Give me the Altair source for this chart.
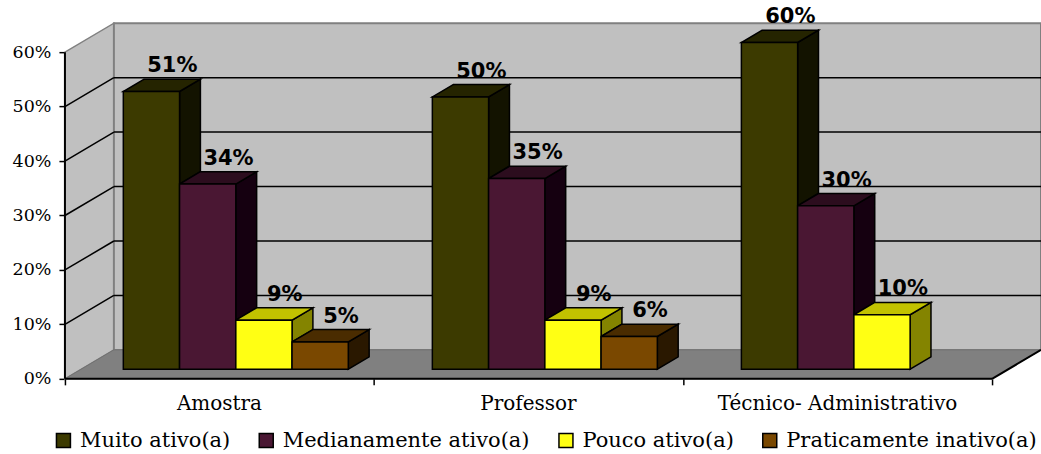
import altair as alt
import pandas as pd

# ---- data -----------------------------------------------------------------
categories = ["Amostra", "Professor", "Técnico- Administrativo"]
series = ["Muito ativo(a)", "Medianamente ativo(a)", "Pouco ativo(a)", "Praticamente inativo(a)"]
muito_ativo = [51, 50, 60]
medianamente_ativo = [34, 35, 30]
pouco_ativo = [9, 9, 10]
praticamente_inativo = [5, 6, None]
y_ticks = [0, 10, 20, 30, 40, 50, 60]

# face colours per series: front, top (lit) and right side (shaded)
front_colors = ["#3c3a00", "#4a1733", "#ffff14", "#7a4800"]
top_colors = ["#252400", "#2c0d1e", "#c2c200", "#4a2c00"]
side_colors = ["#131300", "#150010", "#848400", "#2a1800"]

# ---- oblique 3-D projection (in data units) --------------------------------
DX = 0.1584        # shift of the back plane along x (category units)
DY = 5.32          # shift of the back plane along y (percentage points)
Z_FRONT, Z_BACK = 0.334, 0.76   # depth of the bars' front and back faces
BAR_W = 0.182      # bar width (category units)
Y_MAX = 60
N = len(categories)

values_by_series = [muito_ativo, medianamente_ativo, pouco_ativo, praticamente_inativo]

front_rows, top_rows, side_rows, label_rows = [], [], [], []
for g in range(N):
    for i, s in enumerate(series):
        v = values_by_series[i][g]
        if v is None:
            continue
        xl = g + 0.5 + (i - len(series) / 2) * BAR_W
        xr = xl + BAR_W
        fid = f"{g}-{i}"
        front_rows.append(dict(series=s, x=xl + Z_FRONT * DX, x2=xr + Z_FRONT * DX,
                               y=Z_FRONT * DY, y2=v + Z_FRONT * DY))
        for z in (Z_FRONT, Z_BACK):
            top_rows.append(dict(id=fid, fill=top_colors[i], y=v + z * DY,
                                 x=xl + z * DX, x2=xr + z * DX))
        # the right face is hidden wherever the neighbouring bar stands
        nxt = values_by_series[i + 1][g] if i + 1 < len(series) else None
        lo = nxt if nxt is not None else 0
        if lo < v:
            for z in (Z_FRONT, Z_BACK):
                side_rows.append(dict(id=fid, fill=side_colors[i], x=xr + z * DX,
                                      y=v + z * DY, y2=lo + z * DY))
        label_rows.append(dict(x=(xl + xr) / 2 + Z_BACK * DX, y=v + Z_BACK * DY,
                               text=f"{v}%"))

front_df = pd.DataFrame(front_rows)
top_df = pd.DataFrame(top_rows)
side_df = pd.DataFrame(side_rows)
label_df = pd.DataFrame(label_rows)
cat_df = pd.DataFrame(dict(x=[g + 0.5 for g in range(N)], y=[0] * N, text=categories))

# walls and floor of the 3-D box
side_wall_df = pd.DataFrame(dict(x=[0, DX], y=[0, DY], y2=[Y_MAX, Y_MAX + DY]))
floor_df = pd.DataFrame(dict(y=[0, DY], x=[0, DX], x2=[N, N + DX]))
back_wall_df = pd.DataFrame(dict(x=[DX], x2=[N + DX], y=[DY], y2=[Y_MAX + DY]))
grid_vals = [t for t in y_ticks if 0 < t < Y_MAX]
back_grid_df = pd.DataFrame(dict(x=[DX] * len(grid_vals), x2=[N + DX] * len(grid_vals),
                                 y=[t + DY for t in grid_vals]))
side_grid_df = pd.DataFrame(dict(x=[0] * len(grid_vals), x2=[DX] * len(grid_vals),
                                 y=grid_vals, y2=[t + DY for t in grid_vals]))
axis_lines_df = pd.DataFrame(dict(x=[0, 0, N], x2=[0, N, N + DX],
                                  y=[0, 0, 0], y2=[Y_MAX, 0, DY]))

xs = alt.Scale(domain=[0, N + DX], nice=False, zero=False)
ys = alt.Scale(domain=[0, Y_MAX + DY], nice=False, zero=False)

SERIF = "DejaVu Serif"

# shared axes: ticks only on x (category boundaries), ticks + labels on y
x_axis = alt.Axis(values=list(range(N + 1)), labels=False, domain=False, grid=False,
                  ticks=True, tickColor="black", tickSize=6, tickWidth=1.5, title=None)
y_axis = alt.Axis(values=y_ticks, domain=False, grid=False, ticks=True,
                  tickColor="black", tickSize=6, tickWidth=1.5,
                  labelExpr="datum.value + '%'", labelFont=SERIF, labelFontSize=17.5,
                  labelColor="black", labelPadding=8, title=None)


def X(field="x", **kw):
    return alt.X(f"{field}:Q", scale=xs, axis=x_axis, **kw)


def Y(field="y", **kw):
    return alt.Y(f"{field}:Q", scale=ys, axis=y_axis, **kw)


side_wall = alt.Chart(side_wall_df).mark_area(
    fill="#c0c0c0", stroke="#808080", strokeWidth=1.5, orient="vertical"
).encode(x=X(), y=Y(stack=None), y2="y2:Q")

back_wall = alt.Chart(back_wall_df).mark_rect(
    fill="#c0c0c0", stroke="#808080", strokeWidth=2
).encode(x=X(), x2="x2:Q", y=Y(), y2="y2:Q")

floor = alt.Chart(floor_df).mark_area(
    fill="#808080", stroke="#707070", strokeWidth=1, orient="horizontal"
).encode(y=Y(), x=X(stack=None), x2="x2:Q")

back_grid = alt.Chart(back_grid_df).mark_rule(color="black", strokeWidth=1.5).encode(
    x=X(), x2="x2:Q", y=Y())
side_grid = alt.Chart(side_grid_df).mark_rule(color="black", strokeWidth=1.5).encode(
    x=X(), x2="x2:Q", y=Y(), y2="y2:Q")

bar_side = alt.Chart(side_df).mark_area(
    stroke="black", strokeWidth=1.5, orient="vertical"
).encode(x=X(), y=Y(stack=None), y2="y2:Q",
         fill=alt.Fill("fill:N", scale=None), detail="id:N")

bar_top = alt.Chart(top_df).mark_area(
    stroke="black", strokeWidth=1.5, orient="horizontal"
).encode(y=Y(), x=X(stack=None), x2="x2:Q",
         fill=alt.Fill("fill:N", scale=None), detail="id:N")

bar_front = alt.Chart(front_df).mark_rect(stroke="black", strokeWidth=1.5).encode(
    x=X(), x2="x2:Q", y=Y(), y2="y2:Q",
    color=alt.Color("series:N", scale=alt.Scale(domain=series, range=front_colors),
                    legend=alt.Legend(orient="none", legendX=-12, legendY=407,
                                      direction="horizontal", title=None,
                                      labelFont=SERIF, labelFontSize=21,
                                      labelColor="black", labelLimit=400,
                                      symbolType="square", symbolSize=196,
                                      symbolStrokeColor="black", symbolStrokeWidth=1.5,
                                      symbolOpacity=1, labelOffset=6,
                                      columnPadding=25, padding=0)),
)

axis_lines = alt.Chart(axis_lines_df).mark_rule(color="black", strokeWidth=2).encode(
    x=X(), x2="x2:Q", y=Y(), y2="y2:Q")

labels = alt.Chart(label_df).mark_text(
    font="DejaVu Sans", fontWeight="bold", fontSize=21, color="black",
    align="center", baseline="alphabetic", dy=-7
).encode(x=X(), y=Y(), text="text:N")

cat_labels = alt.Chart(cat_df).mark_text(
    font=SERIF, fontSize=20, color="black", align="center", baseline="alphabetic", dy=31
).encode(x=X(), y=Y(), text="text:N")

chart = alt.layer(
    side_wall, back_wall, floor, back_grid, side_grid,
    bar_side, bar_top, bar_front, axis_lines, labels, cat_labels
).properties(
    width=977, height=356,
    padding={"left": 65, "top": 23, "right": 0, "bottom": 75},
    autosize="none", background="white",
).configure_view(stroke=None)

chart.save("out.html", embed_options={"renderer": "svg", "actions": False})
